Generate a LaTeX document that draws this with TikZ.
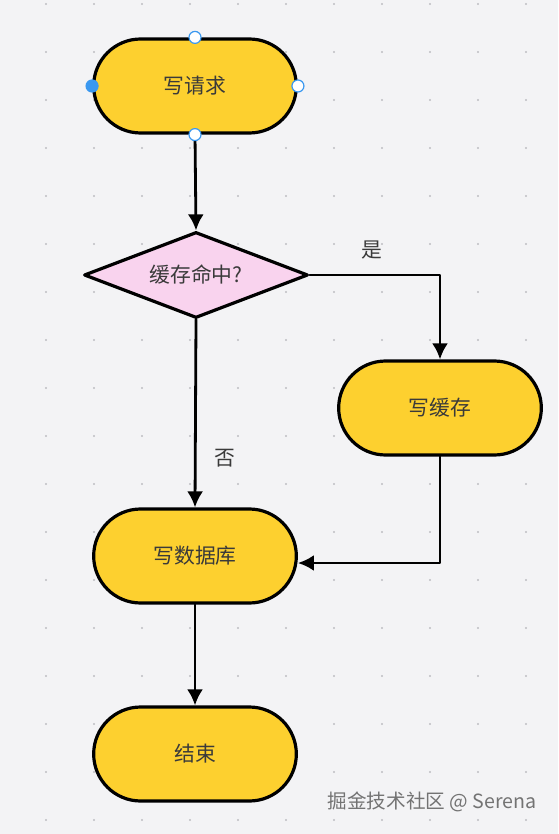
\documentclass[tikz,border=0pt]{standalone}
\usepackage{fontspec}
\setmainfont{Noto Sans CJK SC}
\usetikzlibrary{shapes.misc,shapes.geometric,arrows.meta}
\definecolor{bgcol}{HTML}{F3F3F5}
\definecolor{dotcol}{HTML}{BDBDC2}
\definecolor{termfill}{HTML}{FDD02F}
\definecolor{decfill}{HTML}{F9D3EE}
\definecolor{txtcol}{HTML}{3A3A3A}
\definecolor{handle}{HTML}{3A98F0}
\begin{document}
\begin{tikzpicture}[x=0.5pt,y=-0.5pt,line cap=round,line join=round,
  term/.style={rounded rectangle,draw=black,line width=1.6pt,fill=termfill,
    minimum width=108pt,minimum height=47pt,text=txtcol,font=\fontsize{10.4pt}{12pt}\selectfont},
  decision/.style={diamond,aspect=2.6,draw=black,line width=1.6pt,fill=decfill,inner sep=0pt,
    minimum width=112pt,minimum height=43pt,text=txtcol,font=\fontsize{10.4pt}{12pt}\selectfont},
  flow/.style={line width=1.4pt,-{Latex[length=8pt,width=8pt]}},
  handlept/.style={circle,draw=handle,line width=0.6pt,fill=white,inner sep=0pt,minimum size=6pt}]
  \fill[bgcol] (0,0) rectangle (558,834);
  \useasboundingbox (0,0) rectangle (558,834);
  % dotted grid
  \foreach \gx in {46,94,...,558}
    \foreach \gy in {4,52,...,834}
      \fill[dotcol] (\gx,\gy) circle (0.6pt);
  % nodes
  \node[term] (req) at (195,86) {写请求};
  \node[decision] (hit) at (196,275) {缓存命中?};
  \node[term] (cache) at (440,408) {写缓存};
  \node[term] (db) at (195,556) {写数据库};
  \node[term] (end) at (195,754) {结束};
  % connectors
  \draw[flow] (req.south) -- (hit.north);
  \draw[flow] (hit.east) -| (cache.north);
  \draw[flow] (hit.south) -- (db.north);
  \draw[flow] (cache.south) |- ([yshift=-3.5pt]db.east);
  \draw[flow] (db.south) -- (end.north);
  \node[text=txtcol,font=\fontsize{10.4pt}{12pt}\selectfont] (yes) at (372,250) {是};
  \node[text=txtcol,font=\fontsize{10.4pt}{12pt}\selectfont] (no) at (225,458) {否};
  % selection handles
  \node[handlept,fill=handle] (hl) at (req.west) {};
  \node[handlept] (ht) at (req.north) {};
  \node[handlept] (hr) at (req.east) {};
  \node[handlept] (hb) at (req.south) {};
  % watermark
  \node[text=black!55,font=\fontsize{9.8pt}{11pt}\selectfont] (mark) at (432,802) {掘金技术社区 @ Serena};
\end{tikzpicture}
\end{document}
